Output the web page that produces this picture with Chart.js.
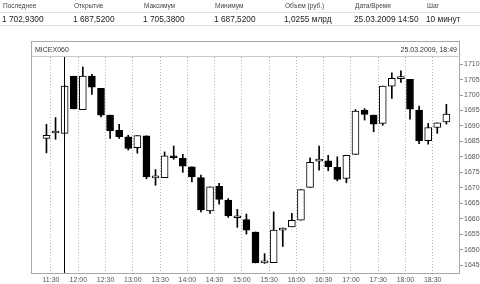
<!DOCTYPE html>
<html>
<head>
<meta charset="utf-8">
<script src="https://cdn.jsdelivr.net/npm/chart.js@4.4.0/dist/chart.umd.min.js"></script>
<style>
    body { margin: 0; background: #fff; font-family: "Liberation Sans", Arial, sans-serif; }
    #wrap { position: relative; width: 480px; height: 284px; overflow: hidden; }
    #wrap canvas { position: absolute; left: 0; top: 0; }
    .hd { position: absolute; white-space: nowrap; }
    .lab { top: 2px; font-size: 6.5px; color: #444; }
    .val { top: 14px; font-size: 8.3px; color: #222; }
    .rule { position: absolute; left: 0; width: 480px; height: 1px; background: #e2e2e2; }
    .tag { position: absolute; top: 46px; font-size: 7px; color: #333; white-space: nowrap; }
</style>
</head>
<body>
<div id="wrap">
    <canvas id="candleChart" width="480" height="284"></canvas>
    <div class="hd lab" style="left:3px">Последнее</div>
    <div class="hd lab" style="left:74px">Открытие</div>
    <div class="hd lab" style="left:144px">Максимум</div>
    <div class="hd lab" style="left:215px">Минимум</div>
    <div class="hd lab" style="left:285px">Объем (руб.)</div>
    <div class="hd lab" style="left:355px">Дата/Время</div>
    <div class="hd lab" style="left:427px">Шаг</div>
    <div class="rule" style="top:12px"></div>
    <div class="hd val" style="left:2px">1 702,9300</div>
    <div class="hd val" style="left:73px">1 687,5200</div>
    <div class="hd val" style="left:143px">1 705,3800</div>
    <div class="hd val" style="left:214px">1 687,5200</div>
    <div class="hd val" style="left:284px">1,0255 млрд</div>
    <div class="hd val" style="left:354px">25.03.2009 14:50</div>
    <div class="hd val" style="left:426px">10 минут</div>
    <div class="rule" style="top:25px"></div>
    <div class="tag" style="left:35px">MICEX060</div>
    <div class="tag" style="right:23px">25.03.2009, 18:49</div>
</div>

<script>
// 10-минутные свечи
const times = ['11:20', '11:30', '11:40', '11:50', '12:00', '12:10', '12:20', '12:30', '12:40', '12:50',
               '13:00', '13:10', '13:20', '13:30', '13:40', '13:50', '14:00', '14:10', '14:20', '14:30',
               '14:40', '14:50', '15:00', '15:10', '15:20', '15:30', '15:40', '15:50', '16:00', '16:10',
               '16:20', '16:30', '16:40', '16:50', '17:00', '17:10', '17:20', '17:30', '17:40', '17:50',
               '18:00', '18:10', '18:20', '18:30', '18:40'];
const opens  = [1686.0, 1687.7, 1687.6, 1706.1, 1695.3, 1706.1, 1702.2, 1693.5, 1688.6, 1686.5,
                1683.0, 1686.8, 1673.2, 1673.3, 1680.3, 1679.5, 1676.8, 1673.3, 1662.5, 1670.5,
                1666.0, 1660.3, 1659.7, 1655.7, 1645.7, 1645.8, 1656.3, 1657.3, 1659.5, 1670.1,
                1678.6, 1678.7, 1676.6, 1673.0, 1680.8, 1695.1, 1693.5, 1690.8, 1702.9, 1705.3,
                1705.1, 1695.1, 1685.2, 1689.5, 1691.3];
const highs  = [1690.5, 1692.7, 1703.0, 1706.1, 1709.1, 1706.7, 1702.2, 1693.5, 1690.5, 1687.0,
                1686.9, 1686.8, 1675.9, 1681.6, 1683.5, 1680.8, 1676.8, 1674.1, 1670.3, 1671.4,
                1666.5, 1663.0, 1661.5, 1655.7, 1648.7, 1662.2, 1657.0, 1661.7, 1669.4, 1679.7,
                1683.5, 1680.5, 1680.0, 1680.5, 1695.3, 1695.6, 1693.5, 1702.9, 1707.2, 1707.8,
                1705.1, 1696.4, 1690.8, 1691.0, 1697.0];
const lows   = [1681.3, 1685.7, 1687.5, 1695.5, 1695.3, 1700.2, 1692.9, 1686.0, 1686.0, 1682.2,
                1681.2, 1672.9, 1670.8, 1673.3, 1679.2, 1675.0, 1671.9, 1662.2, 1661.7, 1664.7,
                1660.4, 1657.2, 1655.0, 1645.7, 1645.5, 1645.8, 1651.0, 1657.3, 1659.5, 1670.1,
                1675.7, 1675.5, 1672.2, 1671.6, 1680.8, 1691.9, 1688.1, 1690.2, 1698.9, 1704.1,
                1692.2, 1684.3, 1684.1, 1687.6, 1690.6];
const closes = [1687.0, 1687.9, 1702.9, 1695.5, 1706.1, 1702.5, 1693.5, 1688.5, 1686.5, 1682.7,
                1686.9, 1673.5, 1673.4, 1680.3, 1679.7, 1677.0, 1673.5, 1662.8, 1670.3, 1666.2,
                1660.9, 1660.5, 1656.3, 1645.7, 1645.9, 1656.3, 1656.8, 1659.5, 1669.4, 1678.2,
                1679.3, 1676.8, 1672.7, 1680.5, 1694.8, 1693.7, 1690.6, 1702.9, 1705.4, 1705.5,
                1695.4, 1685.2, 1689.5, 1691.0, 1693.8];

const timeTicks  = ['11:30', '12:00', '12:30', '13:00', '13:30', '14:00', '14:30', '15:00',
                    '15:30', '16:00', '16:30', '17:00', '17:30', '18:00', '18:30'];
const priceTicks = [1645, 1650, 1655, 1660, 1665, 1670, 1675, 1680, 1685, 1690, 1695, 1700, 1705, 1710];
const cursorTime = '11:40';   // вертикальный курсор

// 'чч:мм' -> минуты от полуночи
function toMin(s) {
    const [h, m] = s.split(':').map(Number);
    return h * 60 + m;
}
function fromMin(v) {
    const h = Math.floor(v / 60);
    const m = v % 60;
    return h + ':' + (m < 10 ? '0' + m : m);
}

// центр свечи = начало интервала + 5 минут
const candleX = times.map(t => toMin(t) + 5);

const bodyData = candleX.map((x, i) => ({ x: x, y: [Math.min(opens[i], closes[i]), Math.max(opens[i], closes[i])] }));
const wickData = candleX.map((x, i) => ({ x: x, y: [lows[i], highs[i]] }));
const bodyColors = opens.map((o, i) => closes[i] >= o ? '#ffffff' : '#000000');

// рамка, шапка и курсор
const framePlugin = {
    id: 'frame',
    afterDatasetsDraw(chart) {
        const { ctx, chartArea: a, scales } = chart;
        const cx = Math.round(scales.x.getPixelForValue(toMin(cursorTime) + 5)) - 0.5;
        ctx.save();
        ctx.strokeStyle = '#000';
        ctx.lineWidth = 1;
        ctx.beginPath();
        ctx.moveTo(cx, a.top);
        ctx.lineTo(cx, a.bottom);
        ctx.stroke();
        ctx.restore();
    },
    afterDraw(chart) {
        const { ctx, chartArea: a } = chart;
        const l = Math.round(a.left) + 0.5, r = Math.round(a.right) - 0.5;
        const t = Math.round(a.top) - 16 + 0.5, b = Math.round(a.bottom) - 0.5;
        ctx.save();
        ctx.lineWidth = 1;
        ctx.strokeStyle = '#a8a8a8';
        ctx.strokeRect(l, t, r - l, b - t);
        ctx.strokeStyle = '#c8c8c8';
        ctx.beginPath();
        ctx.moveTo(l, Math.round(a.top) - 0.5);
        ctx.lineTo(r, Math.round(a.top) - 0.5);
        ctx.stroke();
        ctx.restore();
    }
};

const ctx = document.getElementById('candleChart').getContext('2d');
const candleChart = new Chart(ctx, {
    type: 'bar',
    data: {
        datasets: [
            {
                label: 'тело',
                data: bodyData,
                backgroundColor: bodyColors,
                borderColor: '#000',
                borderWidth: 1,
                borderSkipped: false,
                barThickness: 7,
                minBarLength: 2,
                grouped: false,
                order: 1
            },
            {
                label: 'тень',
                data: wickData,
                backgroundColor: '#000',
                borderWidth: 0,
                barThickness: 1,
                grouped: false,
                order: 2
            }
        ]
    },
    options: {
        responsive: false,
        animation: false,
        devicePixelRatio: 1,
        layout: { padding: { left: 31, top: 57, right: 0, bottom: 0 } },
        plugins: {
            legend: { display: false },
            tooltip: { enabled: false }
        },
        scales: {
            x: {
                type: 'linear',
                min: 668,
                max: 1140,
                offset: false,
                afterBuildTicks: axis => { axis.ticks = timeTicks.map(t => ({ value: toMin(t) })); },
                afterFit: axis => { axis.height = 10; },
                grid: { offset: false, color: '#b4b4b4', drawTicks: false },
                border: { display: false, dash: [1, 2] },
                ticks: {
                    padding: 2,
                    maxRotation: 0,
                    autoSkip: false,
                    color: '#555',
                    font: { family: 'Liberation Sans', size: 7 },
                    callback: v => fromMin(v)
                }
            },
            y: {
                position: 'right',
                min: 1642.1,
                max: 1712.3,
                beginAtZero: false,
                afterBuildTicks: axis => { axis.ticks = priceTicks.map(p => ({ value: p })); },
                afterFit: axis => { axis.width = 20; },
                grid: { drawOnChartArea: false, drawTicks: true, tickLength: 3, color: '#999' },
                border: { display: false },
                ticks: {
                    padding: 1,
                    color: '#555',
                    font: { family: 'Liberation Sans', size: 7 },
                    callback: v => String(v)
                }
            }
        }
    },
    plugins: [framePlugin]
});
</script>
</body>
</html>
